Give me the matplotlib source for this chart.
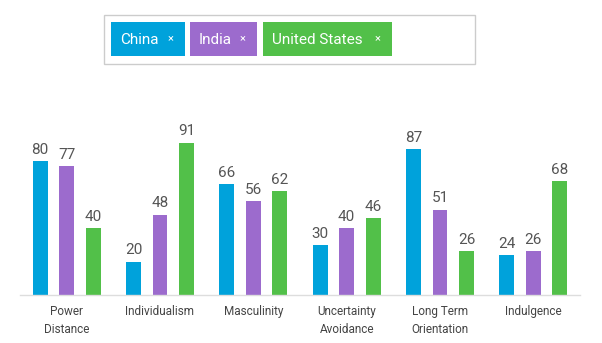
import matplotlib.pyplot as plt
import numpy as np
from matplotlib.patches import Rectangle

plt.rcParams['font.family'] = ['Roboto', 'DejaVu Sans']

categories = ['Power\nDistance', 'Individualism', 'Masculinity',
              'Uncertainty\nAvoidance', 'Long Term\nOrientation', 'Indulgence']
series = ['China', 'India', 'United States']
china = [80, 20, 66, 30, 87, 24]
india = [77, 48, 56, 40, 51, 26]
usa = [40, 91, 62, 46, 26, 68]
colors = ['#00a2db', '#9c6bcd', '#52c049']

W, H = 602, 343
fig = plt.figure(figsize=(W / 100, H / 100), dpi=100)

# plot area in pixels: left 20, right 580, baseline 295, top 127
ax = fig.add_axes([20 / W, 1 - 295 / H, 560 / W, (295 - 127.5) / H])
x = np.arange(len(categories))
bw = 0.16
offs = [-0.284, 0, 0.284]
for vals, off, c in zip([china, india, usa], offs, colors):
    bars = ax.bar(x + off, vals, width=bw, color=c)
    for b, v in zip(bars, vals):
        ax.text(b.get_x() + b.get_width() / 2, v + 2.5, str(v), ha='center',
                va='bottom', fontsize=11, color='#555555')

ax.set_xlim(-0.5, len(categories) - 0.5)
ax.set_ylim(0, 100)
ax.set_yticks([])
ax.set_xticks(x)
ax.set_xticklabels(categories, fontsize=8.5, color='#444444', linespacing=1.55)
ax.tick_params(axis='x', length=0, pad=7)
for s in ['top', 'right', 'left']:
    ax.spines[s].set_visible(False)
ax.spines['bottom'].set_color('#dddddd')
ax.spines['bottom'].set_linewidth(1)


def rect(x0, y0, x1, y1, **kw):
    r = Rectangle((x0 / W, 1 - y1 / H), (x1 - x0) / W, (y1 - y0) / H,
                  transform=fig.transFigure, **kw)
    fig.add_artist(r)


# selector box with chips
rect(104, 15, 475, 64, facecolor='white', edgecolor='#cccccc', linewidth=1)
chips = [(111, 185), (190, 257), (263, 392)]
for (c0, c1), name, c in zip(chips, series, colors):
    rect(c0, 22, c1, 56, facecolor=c, edgecolor='none')
    fig.text((c0 + 9) / W, 1 - 39.5 / H, name, ha='left', va='center',
             fontsize=11, color='white')
    fig.text((c1 - 11) / W, 1 - 38.5 / H, '\u00d7', ha='right', va='center',
             fontsize=8, color='white')

fig.savefig('out.png', dpi=100)
